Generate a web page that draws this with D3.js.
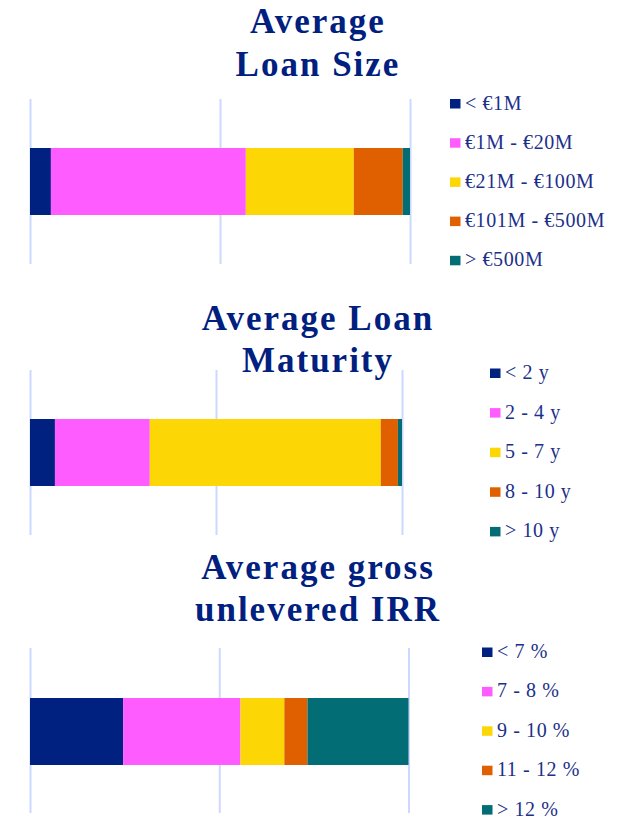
<!DOCTYPE html>
<html>
<head>
<meta charset="utf-8">
<script src="https://cdn.jsdelivr.net/npm/d3@7"></script>
<style>
  body { margin: 0; background: #fff; }
  svg { display: block; }
  text { font-family: "Liberation Serif", Tinos, "Times New Roman", Times, "DejaVu Serif", serif; }
</style>
</head>
<body>
<svg id="chart" width="636" height="817"></svg>
<script>
// segment colours, shared by all three bars
const colors = ['#002180', '#ff5cff', '#fdd605', '#e06000', '#026d74'];

const sizeCategories = ['< €1M', '€1M - €20M', '€21M - €100M', '€101M - €500M', '> €500M'];
const sizeValues = [5.5, 51.3, 28.4, 12.9, 1.9];

const maturityCategories = ['< 2 y', '2 - 4 y', '5 - 7 y', '8 - 10 y', '> 10 y'];
const maturityValues = [6.7, 25.5, 62.1, 4.6, 1.1];

const irrCategories = ['< 7 %', '7 - 8 %', '9 - 10 %', '11 - 12 %', '> 12 %'];
const irrValues = [24.6, 31.0, 11.6, 6.1, 26.7];

const gridTicks = [0, 50, 100];

const panels = [
  { title: ['Average', 'Loan Size'], cats: sizeCategories, vals: sizeValues,
    x0: 30, x1: 410, gridTop: 99, gridBottom: 264, barTop: 148, barBottom: 215,
    titleY: 33, legX: 450, legY: 99, legStep: 39.2 },
  { title: ['Average Loan', 'Maturity'], cats: maturityCategories, vals: maturityValues,
    x0: 30, x1: 402, gridTop: 370, gridBottom: 535, barTop: 419, barBottom: 486,
    titleY: 329.5, legX: 490, legY: 368.5, legStep: 39.6 },
  { title: ['Average gross', 'unlevered IRR'], cats: irrCategories, vals: irrValues,
    x0: 30, x1: 408.5, gridTop: 648, gridBottom: 813, barTop: 698, barBottom: 765,
    titleY: 578.5, legX: 482, legY: 647.5, legStep: 39.4 }
];

const svg = d3.select('#chart');

panels.forEach((p) => {
  const g = svg.append('g');
  const x = d3.scaleLinear().domain([0, 100]).range([p.x0, p.x1]);

  // Title, two centred lines
  g.append('text')
    .attr('x', 318)
    .attr('y', p.titleY)
    .attr('text-anchor', 'middle')
    .attr('font-weight', 'bold')
    .attr('font-size', 35)
    .attr('letter-spacing', 2)
    .attr('fill', '#002080')
    .selectAll('tspan')
    .data(p.title)
    .join('tspan')
    .attr('x', 318)
    .attr('dy', (d, i) => i === 0 ? 0 : 42.5)
    .text((d) => d);

  // vertical grid lines at 0 / 50 / 100
  const axis = d3.axisBottom(x)
    .tickValues(gridTicks)
    .tickSize(-(p.gridBottom - p.gridTop))
    .tickFormat('');
  const axisG = g.append('g')
    .attr('transform', `translate(0, ${p.gridBottom})`)
    .call(axis);
  axisG.select('.domain').remove();
  axisG.selectAll('line')
    .attr('stroke', '#ccd8ff')
    .attr('stroke-width', 2);

  // stacked segments
  const starts = d3.cumsum([0].concat(p.vals)).slice(0, p.vals.length);
  g.selectAll('rect.seg')
    .data(p.vals)
    .join('rect')
    .attr('class', 'seg')
    .attr('x', (d, i) => x(starts[i]))
    .attr('y', p.barTop)
    .attr('width', (d, i) => x(starts[i] + d) - x(starts[i]))
    .attr('height', p.barBottom - p.barTop)
    .attr('fill', (d, i) => colors[i]);

  // legend
  const leg = g.selectAll('g.leg')
    .data(p.cats)
    .join('g')
    .attr('class', 'leg')
    .attr('transform', (d, i) => `translate(${p.legX}, ${p.legY + i * p.legStep})`);
  leg.append('rect')
    .attr('width', 10.5)
    .attr('height', 9.5)
    .attr('fill', (d, i) => colors[i]);
  leg.append('text')
    .attr('x', 15)
    .attr('y', 10.5)
    .attr('font-size', 20)
    .attr('letter-spacing', 0.6)
    .attr('fill', '#1c308a')
    .text((d) => d);
});
</script>
</body>
</html>
